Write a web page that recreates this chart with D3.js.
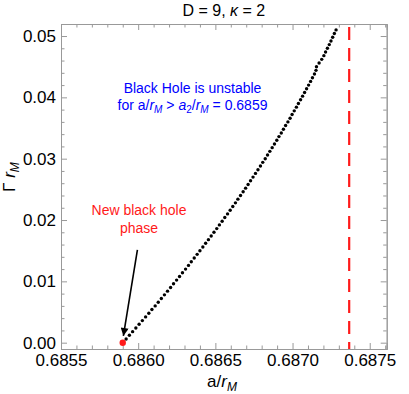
<!DOCTYPE html>
<html>
<head>
<meta charset="utf-8">
<script src="https://cdn.jsdelivr.net/npm/d3@7"></script>
<style>
  body { margin: 0; background: #fff; }
  svg { font-family: "Liberation Sans", Arial, sans-serif; }
  .frame path, .frame line { stroke: #999; }
  .frame text { fill: #000; font-size: 17px; }
</style>
</head>
<body>
<svg id="chart" width="409" height="394"></svg>
<script>
// a / r_M values of the black points
var aVals = [
  0.685900, 0.685922, 0.685943, 0.685964, 0.685985, 0.686006, 0.686027, 0.686048,
  0.686069, 0.686089, 0.686110, 0.686130, 0.686150, 0.686170, 0.686190, 0.686210,
  0.686229, 0.686249, 0.686268, 0.686287, 0.686307, 0.686326, 0.686344, 0.686363,
  0.686382, 0.686400, 0.686419, 0.686437, 0.686455, 0.686473, 0.686491, 0.686509,
  0.686526, 0.686544, 0.686561, 0.686579, 0.686596, 0.686613, 0.686630, 0.686646,
  0.686663, 0.686680, 0.686696, 0.686712, 0.686728, 0.686744, 0.686760, 0.686776,
  0.686792, 0.686807, 0.686823, 0.686838, 0.686853, 0.686868, 0.686883, 0.686898,
  0.686912, 0.686927, 0.686941, 0.686955, 0.686970, 0.686984, 0.686997, 0.687011,
  0.687025, 0.687038, 0.687052, 0.687065, 0.687078, 0.687091, 0.687104, 0.687117,
  0.687129, 0.687142, 0.687152, 0.687155, 0.687172, 0.687189, 0.687203, 0.687214,
  0.687226, 0.687238, 0.687249, 0.687260, 0.687271, 0.687282
];
// Gamma r_M values of the black points
var gammaVals = [
  0.0000, 0.0006, 0.0012, 0.0018, 0.0024, 0.0030, 0.0036, 0.0042,
  0.0048, 0.0054, 0.0060, 0.0066, 0.0072, 0.0078, 0.0084, 0.0090,
  0.0096, 0.0102, 0.0108, 0.0114, 0.0120, 0.0126, 0.0132, 0.0138,
  0.0144, 0.0150, 0.0156, 0.0162, 0.0168, 0.0174, 0.0180, 0.0186,
  0.0192, 0.0198, 0.0204, 0.0210, 0.0216, 0.0222, 0.0228, 0.0234,
  0.0240, 0.0246, 0.0252, 0.0258, 0.0264, 0.0270, 0.0276, 0.0282,
  0.0288, 0.0294, 0.0300, 0.0306, 0.0312, 0.0318, 0.0324, 0.0330,
  0.0336, 0.0342, 0.0348, 0.0354, 0.0360, 0.0366, 0.0372, 0.0378,
  0.0384, 0.0390, 0.0396, 0.0402, 0.0408, 0.0414, 0.0420, 0.0426,
  0.0432, 0.0438, 0.0444, 0.0450, 0.0456, 0.0462, 0.0468, 0.0474,
  0.0480, 0.0486, 0.0492, 0.0498, 0.0504, 0.0510
];

var newPhase = [0.685900, 0.0];        // red point
var a2Line = 0.687367;                  // dashed red line
var arrowFrom = [0.685995, 0.01512];
var arrowTo = [0.685904, 0.00110];

var xTicks = [0.6855, 0.6860, 0.6865, 0.6870, 0.6875];
var yTicks = [0.00, 0.01, 0.02, 0.03, 0.04, 0.05];

var pLeft = 61, pRight = 386.7, pTop = 24, pBottom = 349;

var svg = d3.select("#chart");
svg.append("rect").attr("width", 409).attr("height", 394).attr("fill", "#fff");

var x = d3.scaleLinear().domain([0.6855, 0.68761]).range([pLeft, pRight]);
var y = d3.scaleLinear().domain([-0.00103, 0.05196]).range([pBottom, pTop]);

var xMinor = d3.range(0.6855, 0.68762, 0.0001).filter(function(v){ return Math.abs(Math.round(v/0.0005)*0.0005 - v) > 1e-7; });
var yMinor = d3.range(0, 0.0519, 0.002).filter(function(v){ return Math.abs(Math.round(v/0.01)*0.01 - v) > 1e-7; });

// frame: bottom / left with labels, top / right mirrored
svg.append("g").attr("class", "frame")
  .attr("transform", "translate(0," + pBottom + ")")
  .call(d3.axisBottom(x).tickValues(xTicks).tickFormat(d3.format(".4f")).tickSize(-6).tickPadding(5));
svg.append("g").attr("class", "frame")
  .attr("transform", "translate(0," + pBottom + ")")
  .call(d3.axisBottom(x).tickValues(xMinor).tickFormat("").tickSize(-3.5));
svg.append("g").attr("class", "frame")
  .attr("transform", "translate(0," + pTop + ")")
  .call(d3.axisTop(x).tickValues(xTicks).tickFormat("").tickSize(-6));
svg.append("g").attr("class", "frame")
  .attr("transform", "translate(0," + pTop + ")")
  .call(d3.axisTop(x).tickValues(xMinor).tickFormat("").tickSize(-3.5));

svg.append("g").attr("class", "frame")
  .attr("transform", "translate(" + pLeft + ",0)")
  .call(d3.axisLeft(y).tickValues(yTicks).tickFormat(d3.format(".2f")).tickSize(-6).tickPadding(5));
svg.append("g").attr("class", "frame")
  .attr("transform", "translate(" + pLeft + ",0)")
  .call(d3.axisLeft(y).tickValues(yMinor).tickFormat("").tickSize(-3.5));
svg.append("g").attr("class", "frame")
  .attr("transform", "translate(" + pRight + ",0)")
  .call(d3.axisRight(y).tickValues(yTicks).tickFormat("").tickSize(-6));
svg.append("g").attr("class", "frame")
  .attr("transform", "translate(" + pRight + ",0)")
  .call(d3.axisRight(y).tickValues(yMinor).tickFormat("").tickSize(-3.5));
svg.selectAll(".frame .domain").attr("stroke", "#999");

// dashed line
svg.append("line")
  .attr("x1", x(a2Line)).attr("x2", x(a2Line))
  .attr("y1", pTop + 3).attr("y2", pBottom)
  .attr("stroke", "#ff1a1a").attr("stroke-width", 2.2)
  .attr("stroke-dasharray", "13,8");

// points
var pts = aVals.map(function(a, i){ return {a: a, g: gammaVals[i]}; });
svg.append("g").selectAll("circle")
  .data(pts)
  .enter().append("circle")
  .attr("cx", function(d){ return x(d.a); })
  .attr("cy", function(d){ return y(d.g); })
  .attr("r", 1.7)
  .attr("fill", "#000");

svg.append("circle")
  .attr("cx", x(newPhase[0])).attr("cy", y(newPhase[1]))
  .attr("r", 3.2).attr("fill", "#ff1a1a");

// arrow
svg.append("defs").append("marker")
  .attr("id", "head").attr("viewBox", "0 0 10 10")
  .attr("refX", 10).attr("refY", 5)
  .attr("markerWidth", 12).attr("markerHeight", 8)
  .attr("markerUnits", "userSpaceOnUse")
  .attr("orient", "auto")
  .append("path").attr("d", "M0,0 L10,5 L0,10 Z").attr("fill", "#000");
svg.append("line")
  .attr("x1", x(arrowFrom[0])).attr("y1", y(arrowFrom[1]))
  .attr("x2", x(arrowTo[0])).attr("y2", y(arrowTo[1]))
  .attr("stroke", "#000").attr("stroke-width", 1.6)
  .attr("marker-end", "url(#head)");

// texts
svg.append("text")
  .attr("x", (pLeft + pRight) / 2).attr("y", 16)
  .attr("text-anchor", "middle").attr("font-size", 16)
  .html('D = 9, <tspan font-style="italic">κ</tspan> = 2');

svg.append("text")
  .attr("x", 222).attr("y", 387)
  .attr("text-anchor", "middle").attr("font-size", 17)
  .html('a/<tspan font-style="italic">r</tspan><tspan font-style="italic" font-size="12" dy="4">M</tspan>');

svg.append("text")
  .attr("transform", "translate(15,177) rotate(-90)")
  .attr("text-anchor", "middle").attr("font-size", 17)
  .html('Γ <tspan font-style="italic">r</tspan><tspan font-style="italic" font-size="12" dy="4">M</tspan>');

var blue = svg.append("g").attr("fill", "#0000ff").attr("font-size", 14).attr("text-anchor", "middle");
blue.append("text").attr("x", 192.5).attr("y", 92.5).text("Black Hole is unstable");
blue.append("text").attr("x", 192.5).attr("y", 110)
  .html('for a/<tspan font-style="italic">r</tspan><tspan font-style="italic" font-size="10" dy="3">M</tspan>' +
        '<tspan dy="-3"> &gt; </tspan><tspan font-style="italic">a</tspan><tspan font-size="10" dy="3">2</tspan>' +
        '<tspan dy="-3">/</tspan><tspan font-style="italic">r</tspan><tspan font-style="italic" font-size="10" dy="3">M</tspan>' +
        '<tspan dy="-3"> = 0.6859</tspan>');

var red = svg.append("g").attr("fill", "#ff1a1a").attr("font-size", 14).attr("text-anchor", "middle");
red.append("text").attr("x", 139).attr("y", 215).text("New black hole");
red.append("text").attr("x", 139).attr("y", 233).text("phase");
</script>
</body>
</html>
